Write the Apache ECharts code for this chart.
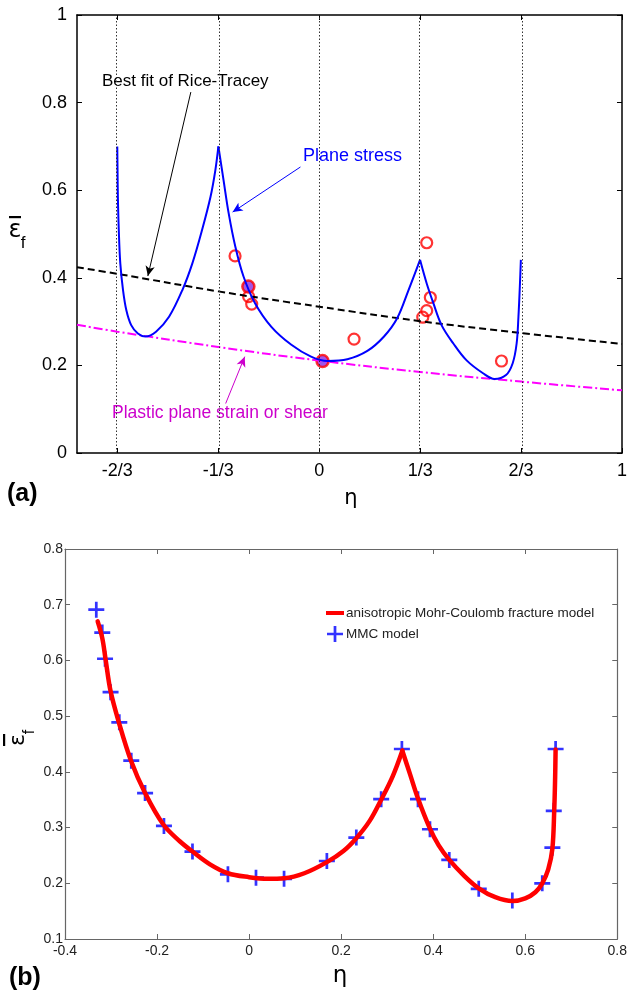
<!DOCTYPE html>
<html><head><meta charset="utf-8">
<script src="https://cdn.jsdelivr.net/npm/echarts@6/dist/echarts.min.js"></script>
<style>html,body{margin:0;padding:0;background:#fff}#c{width:630px;height:994px}</style>
</head><body><div id="c"></div>
<script>
// ---------- Panel (a) ----------
const tickValuesA = [-2/3, -1/3, 0, 1/3, 2/3, 1];
const tickLabelsA = ['-2/3', '-1/3', '0', '1/3', '2/3', '1'];
const gridEtaA = [-2/3, -1/3, 0, 1/3, 2/3];

const planeStressEta = [-0.667,-0.666,-0.665,-0.662,-0.657,-0.648,-0.637,-0.621,-0.599,-0.574,-0.539,-0.496,-0.452,-0.419,-0.387,-0.359,-0.343,-0.333,
  -0.316,-0.299,-0.277,-0.250,-0.212,-0.158,-0.092,-0.027,0.028,0.093,0.159,0.214,0.257,0.295,0.333,
  0.355,0.377,0.404,0.443,0.486,0.541,0.579,0.617,0.639,0.652,0.658,0.663,0.666];
const planeStressEps = [0.700,0.640,0.585,0.509,0.433,0.372,0.326,0.292,0.273,0.266,0.277,0.311,0.372,0.433,0.509,0.585,0.646,0.700,
  0.623,0.547,0.471,0.403,0.342,0.288,0.247,0.220,0.210,0.214,0.233,0.266,0.307,0.372,0.441,
  0.387,0.342,0.292,0.250,0.212,0.182,0.169,0.178,0.205,0.250,0.311,0.387,0.441];

const riceEta = [-0.8, -2/3, -1/3, 0, 1/3, 2/3, 1];
const riceEps = [0.424, 0.409, 0.369, 0.334, 0.301, 0.274, 0.249];

const strainEta = [-0.8, -2/3, -1/3, 0, 1/3, 2/3, 1];
const strainEps = [0.293, 0.277, 0.242, 0.211, 0.185, 0.163, 0.143];

const testOpenEta = [-0.278, -0.233, -0.223, 0.115, 0.355, 0.367, 0.355, 0.342, 0.602];
const testOpenEps = [0.450, 0.357, 0.340, 0.260, 0.480, 0.355, 0.325, 0.310, 0.210];
const testFilledEta = [-0.234, 0.011];
const testFilledEps = [0.380, 0.210];

// ---------- Panel (b) ----------
const amcEta = [-0.329,-0.319,-0.312,-0.301,-0.283,-0.257,-0.226,-0.186,-0.150,-0.123,-0.085,-0.046,0.000,0.040,0.076,0.120,0.169,0.205,0.233,0.262,0.287,0.312,0.333,
  0.350,0.367,0.393,0.412,0.435,0.468,0.499,0.535,0.572,0.600,0.622,0.637,0.650,0.659,0.663,0.665,0.666];
const amcEps = [0.670,0.640,0.603,0.545,0.489,0.421,0.362,0.305,0.275,0.257,0.234,0.218,0.211,0.208,0.209,0.218,0.238,0.258,0.281,0.312,0.350,0.392,0.438,
  0.395,0.352,0.298,0.268,0.242,0.213,0.191,0.175,0.168,0.173,0.184,0.200,0.225,0.262,0.330,0.390,0.440];

const mmcEta = [-0.332,-0.319,-0.313,-0.301,-0.282,-0.256,-0.226,-0.185,-0.123,-0.046,0.015,0.076,0.169,0.233,0.287,0.332,0.367,0.393,0.435,0.499,0.572,0.637,0.659,0.662,0.666];
const mmcEps = [0.691,0.650,0.603,0.543,0.489,0.420,0.362,0.303,0.257,0.216,0.210,0.208,0.240,0.282,0.351,0.441,0.351,0.297,0.242,0.190,0.169,0.200,0.264,0.330,0.441];

const zip = (a, b) => a.map((v, i) => [v, b[i]]);
const PLUS = 'path://M-1.7,-10H1.7V-1.7H10V1.7H1.7V10H-1.7V1.7H-10V-1.7H-1.7Z';
const FONT = '"Liberation Sans", Arial, sans-serif';

// split a curve at its cusps (local maxima) so the peaks stay sharp
function splitAtPeaks(pts) {
  const out = []; let cur = [pts[0]];
  for (let i = 1; i < pts.length; i++) {
    cur.push(pts[i]);
    if (i < pts.length - 1 && pts[i][1] > pts[i - 1][1] && pts[i][1] > pts[i + 1][1]) { out.push(cur); cur = [pts[i]]; }
  }
  out.push(cur); return out;
}

const chart = echarts.init(document.getElementById('c'), null, {renderer: 'canvas'});

function epsLabel(x, y, rot, fs) {
  return {
    type: 'group', x: x, y: y, rotation: rot,
    children: [
      {type: 'text', style: {text: 'ε', x: 0, y: 0, font: fs + 'px "DejaVu Sans", sans-serif', fill: '#000', align: 'center', verticalAlign: 'middle'}},
      {type: 'rect', shape: {x: -6, y: -15, width: 12, height: 2.2}, style: {fill: '#000'}},
      {type: 'text', style: {text: 'f', x: 8, y: 12, font: Math.round(fs * 0.72) + 'px "Liberation Sans", sans-serif', fill: '#000', align: 'center', verticalAlign: 'middle'}}
    ]
  };
}

const lineA = {show: true, onZero: false, lineStyle: {color: '#000', width: 1.5}};
const lineB = {show: true, onZero: false, lineStyle: {color: '#666', width: 1.2}};

const blueSegs = splitAtPeaks(zip(planeStressEta, planeStressEps)).map((seg, k) => ({
  name: 'Plane stress ' + k, type: 'line', xAxisIndex: 0, yAxisIndex: 0, data: seg,
  smooth: 0.35, showSymbol: false, silent: true, lineStyle: {color: '#0000ff', width: 2}
}));
const redSegs = splitAtPeaks(zip(amcEta, amcEps)).map((seg) => ({
  name: 'anisotropic Mohr-Coulomb fracture model', type: 'line', xAxisIndex: 2, yAxisIndex: 2, data: seg,
  smooth: 0.35, showSymbol: false, silent: true,
  lineStyle: {color: '#ff0000', width: 4.5, cap: 'round', join: 'round'}, itemStyle: {color: '#ff0000'}
}));

const option = {
  backgroundColor: '#fff',
  animation: false,
  textStyle: {fontFamily: FONT},
  grid: [
    {left: 77, top: 15, width: 550, height: 438},
    {left: 65, top: 549, width: 553, height: 390}
  ],
  xAxis: [
    {type: 'value', gridIndex: 0, min: -0.8, max: 1, position: 'bottom', axisLine: lineA, splitLine: {show: false},
      axisTick: {show: true, inside: true, length: 5, customValues: tickValuesA, lineStyle: {color: '#000'}},
      axisLabel: {show: true, customValues: tickValuesA, margin: 9, fontSize: 18, color: '#000', fontFamily: FONT,
        formatter: v => { const i = tickValuesA.findIndex(t => Math.abs(t - v) < 1e-6); return i >= 0 ? tickLabelsA[i] : ''; }}},
    {type: 'value', gridIndex: 0, min: -0.8, max: 1, position: 'top', axisLine: lineA, splitLine: {show: false},
      axisTick: {show: true, inside: true, length: 5, customValues: tickValuesA, lineStyle: {color: '#000'}},
      axisLabel: {show: false}},
    {type: 'value', gridIndex: 1, min: -0.4, max: 0.8, interval: 0.2, position: 'bottom', axisLine: lineB,
      axisTick: {show: true, inside: true, length: 5, lineStyle: {color: '#666'}},
      axisLabel: {margin: 5, fontSize: 14, color: '#222', fontFamily: FONT, formatter: v => String(Math.round(v * 10) / 10)},
      splitLine: {show: false}},
    {type: 'value', gridIndex: 1, min: -0.4, max: 0.8, interval: 0.2, position: 'top', axisLine: lineB,
      axisTick: {show: true, inside: true, length: 5, lineStyle: {color: '#666'}},
      axisLabel: {show: false}, splitLine: {show: false}}
  ],
  yAxis: [
    {type: 'value', gridIndex: 0, min: 0, max: 1, interval: 0.2, position: 'left', axisLine: lineA, splitLine: {show: false},
      axisTick: {show: true, inside: true, length: 5, lineStyle: {color: '#000'}},
      axisLabel: {margin: 10, fontSize: 18, color: '#000', fontFamily: FONT, formatter: v => String(Math.round(v * 10) / 10)}},
    {type: 'value', gridIndex: 0, min: 0, max: 1, interval: 0.2, position: 'right', axisLine: lineA, splitLine: {show: false},
      axisTick: {show: true, inside: true, length: 5, lineStyle: {color: '#000'}},
      axisLabel: {show: false}},
    {type: 'value', gridIndex: 1, min: 0.1, max: 0.8, interval: 0.1, position: 'left', axisLine: lineB,
      axisTick: {show: true, inside: true, length: 5, lineStyle: {color: '#666'}},
      axisLabel: {margin: 2, fontSize: 14, color: '#222', fontFamily: FONT, formatter: v => String(Math.round(v * 10) / 10)},
      splitLine: {show: false}},
    {type: 'value', gridIndex: 1, min: 0.1, max: 0.8, interval: 0.1, position: 'right', axisLine: lineB,
      axisTick: {show: true, inside: true, length: 5, lineStyle: {color: '#666'}},
      axisLabel: {show: false}, splitLine: {show: false}}
  ],
  legend: {
    left: 321, top: 601, orient: 'vertical', itemGap: 6, itemWidth: 18, itemHeight: 16,
    textStyle: {fontSize: 13.5, color: '#222', fontFamily: FONT, padding: [0, 0, 0, -3]},
    selectedMode: false,
    data: [
      {name: 'anisotropic Mohr-Coulomb fracture model', icon: 'path://M0,0H18V4H0Z', itemStyle: {color: '#ff0000'}},
      {name: 'MMC model', icon: PLUS, itemStyle: {color: '#0000ff'}}
    ]
  },
  series: [
    {name: 'Rice-Tracey', type: 'line', xAxisIndex: 0, yAxisIndex: 0, data: zip(riceEta, riceEps),
      smooth: 0.4, showSymbol: false, silent: true,
      lineStyle: {color: '#000', width: 2, type: [7, 4]},
      markLine: {
        silent: true, symbol: ['none', 'none'], label: {show: false},
        lineStyle: {color: '#333', width: 1, type: [1.5, 2]},
        data: gridEtaA.map(v => ({xAxis: v}))
      }
    },
    {name: 'Plastic plane strain', type: 'line', xAxisIndex: 0, yAxisIndex: 0, data: zip(strainEta, strainEps),
      smooth: 0.4, showSymbol: false, silent: true,
      lineStyle: {color: '#ff00ff', width: 2, type: [9, 3, 2, 3]},
      markLine: {
        silent: true, symbol: ['none', 'arrow'], symbolSize: [7, 10], label: {show: false},
        data: [
          [{coord: [-0.424, 0.824], lineStyle: {color: '#000', width: 1, type: 'solid'}}, {coord: [-0.566, 0.404]}],
          [{coord: [-0.062, 0.653], lineStyle: {color: '#0000ff', width: 1, type: 'solid'}}, {coord: [-0.286, 0.550]}],
          [{coord: [-0.309, 0.113], lineStyle: {color: '#cc00cc', width: 1, type: 'solid'}}, {coord: [-0.246, 0.220]}]
        ]
      }
    }
  ].concat(blueSegs).concat([
    {name: 'Tests', type: 'scatter', xAxisIndex: 0, yAxisIndex: 0, data: zip(testOpenEta, testOpenEps),
      symbol: 'circle', symbolSize: 11, silent: true,
      itemStyle: {color: 'rgba(0,0,0,0)', borderColor: '#ff0000', borderWidth: 2.2}},
    {name: 'Tests filled', type: 'scatter', xAxisIndex: 0, yAxisIndex: 0, data: zip(testFilledEta, testFilledEps),
      symbol: 'circle', symbolSize: 12, silent: true,
      itemStyle: {color: '#8a2be2', borderColor: '#ff0000', borderWidth: 2.5}}
  ]).concat(redSegs).concat([
    {name: 'MMC model', type: 'scatter', xAxisIndex: 2, yAxisIndex: 2, data: zip(mmcEta, mmcEps),
      symbol: PLUS, symbolSize: 16, silent: true, itemStyle: {color: '#0000ff'}}
  ]),
  graphic: [
    {type: 'text', x: 102, y: 81, style: {text: 'Best fit of Rice-Tracey', font: '17px ' + FONT, fill: '#000', verticalAlign: 'middle'}},
    {type: 'text', x: 303, y: 156, style: {text: 'Plane stress', font: '18px ' + FONT, fill: '#0000ff', verticalAlign: 'middle'}},
    {type: 'text', x: 112, y: 413, style: {text: 'Plastic plane strain or shear', font: '17.5px ' + FONT, fill: '#cc00cc', verticalAlign: 'middle'}},
    {type: 'text', x: 7, y: 494, style: {text: '(a)', font: 'bold 25px ' + FONT, fill: '#000', verticalAlign: 'middle'}},
    {type: 'text', x: 9, y: 978, style: {text: '(b)', font: 'bold 25px ' + FONT, fill: '#000', verticalAlign: 'middle'}},
    {type: 'text', x: 351, y: 499, style: {text: 'η', font: '21px "DejaVu Sans", sans-serif', fill: '#000', align: 'center', verticalAlign: 'middle'}},
    {type: 'text', x: 340, y: 976, style: {text: 'η', font: '23px "DejaVu Sans", sans-serif', fill: '#000', align: 'center', verticalAlign: 'middle'}},
    epsLabel(15, 231, 0, 24),
    epsLabel(18, 740, Math.PI / 2, 22)
  ]
};
chart.setOption(option);
</script></body></html>
